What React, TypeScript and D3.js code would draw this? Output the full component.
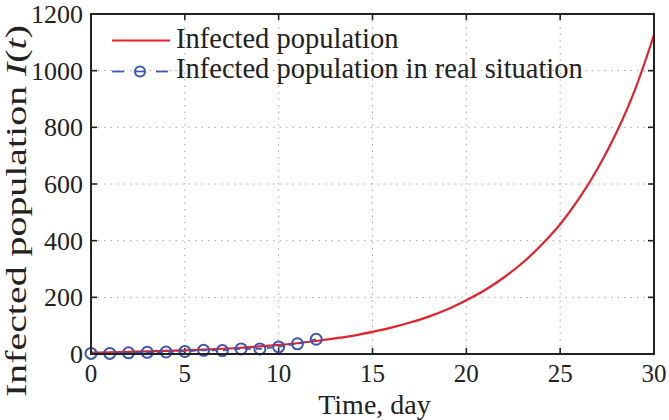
import React from 'react';
import * as d3 from 'd3';

const modelDays = [0,1,2,3,4,5,6,7,8,9,10,11,12,13,14,15,16,17,18,19,20,21,22,23,24,25,26,27,28,29,30];
const modelInfected = [5,6,7.5,9,11,13,15.5,18.5,22,27,32,38,46,55,65,78,93,111,132,158,190,226,270,322,385,458,548,655,782,935,1126];
const realDays = [0,1,2,3,4,5,6,7,8,9,10,11,12];
const realInfected = [2,2,4,6,7,9,13,12,18,18,25,36,52];
const xTicks = [0,5,10,15,20,25,30];
const yTicks = [0,200,400,600,800,1000,1200];
const legendLabels = ['Infected population', 'Infected population in real situation'];

const W = 669, H = 420;
const M = { left: 91, right: 654, top: 14, bottom: 354 };
const FONT = "'Liberation Serif', 'Times New Roman', Times, serif";
const RED = '#e8202a';
const BLUE = '#3d55b3';
const TXT = '#222';

export default function App() {
  const x = d3.scaleLinear().domain([0, 30]).range([M.left, M.right]);
  const y = d3.scaleLinear().domain([0, 1200]).range([M.bottom, M.top]);
  const redLine = d3.line<number>().x((_, i) => x(modelDays[i])).y(d => y(d)).curve(d3.curveMonotoneX)(modelInfected) || '';
  const blueLine = d3.line<number>().x((_, i) => x(realDays[i])).y(d => y(d))(realInfected) || '';
  const tickLen = 6;
  const ts = { fontFamily: FONT };
  return (
    <svg width={W} height={H} style={{ position: 'absolute', left: 0, top: 0, background: '#fff' }}>
      {xTicks.slice(1, -1).map(t => (
        <line key={'gx' + t} x1={x(t)} x2={x(t)} y1={M.top} y2={M.bottom} stroke="#a8a8a8" strokeWidth={1} strokeDasharray="1.5,5" />
      ))}
      {yTicks.slice(1, -1).map(t => (
        <line key={'gy' + t} x1={M.left} x2={M.right} y1={y(t)} y2={y(t)} stroke="#a8a8a8" strokeWidth={1} strokeDasharray="1.5,5" />
      ))}
      {xTicks.map(t => (
        <g key={'tx' + t}>
          <line x1={x(t)} x2={x(t)} y1={M.bottom} y2={M.bottom - tickLen} stroke={TXT} strokeWidth={1.6} />
          <line x1={x(t)} x2={x(t)} y1={M.top} y2={M.top + tickLen} stroke={TXT} strokeWidth={1.6} />
          <text style={ts} x={x(t)} y={382} textAnchor="middle" fontSize={25} fill={TXT}>{t}</text>
        </g>
      ))}
      {yTicks.map(t => (
        <g key={'ty' + t}>
          <line x1={M.left} x2={M.left + tickLen} y1={y(t)} y2={y(t)} stroke={TXT} strokeWidth={1.6} />
          <line x1={M.right} x2={M.right - tickLen} y1={y(t)} y2={y(t)} stroke={TXT} strokeWidth={1.6} />
          <text style={ts} x={83} y={y(t) + 9} textAnchor="end" fontSize={26} fill={TXT}>{t}</text>
        </g>
      ))}
      <path d={redLine} fill="none" stroke={RED} strokeWidth={2.2} />
      <path d={blueLine} fill="none" stroke={BLUE} strokeWidth={1.6} strokeDasharray="6,5" />
      {realInfected.map((v, i) => (
        <circle key={'c' + i} cx={x(realDays[i])} cy={y(v)} r={5.5} fill="none" stroke={BLUE} strokeWidth={2} />
      ))}
      <rect x={M.left} y={M.top} width={M.right - M.left} height={M.bottom - M.top} fill="none" stroke={TXT} strokeWidth={2} />
      <line x1={112} x2={170} y1={40.5} y2={40.5} stroke={RED} strokeWidth={2.2} />
      <text style={ts} x={176} y={48} fontSize={28.5} fill={TXT}>{legendLabels[0]}</text>
      <line x1={112} x2={124} y1={71.5} y2={71.5} stroke={BLUE} strokeWidth={1.8} />
      <line x1={156} x2={168} y1={71.5} y2={71.5} stroke={BLUE} strokeWidth={1.8} />
      <circle cx={140} cy={71.5} r={5} fill="none" stroke={BLUE} strokeWidth={2} />
      <line x1={135} x2={145} y1={71.5} y2={71.5} stroke={BLUE} strokeWidth={1.6} />
      <text style={ts} x={176} y={78} fontSize={28.5} fill={TXT}>{legendLabels[1]}</text>
      <text style={ts} x={(M.left + M.right) / 2 + 2} y={414} textAnchor="middle" fontSize={28} fill={TXT}>Time, day</text>
      <text style={ts} transform="translate(26,397) rotate(-90)" fontSize={30} fill={TXT} textLength={372} lengthAdjust="spacingAndGlyphs">
        Infected population <tspan fontStyle="italic">I</tspan>(<tspan fontStyle="italic">t</tspan>)
      </text>
    </svg>
  );
}
